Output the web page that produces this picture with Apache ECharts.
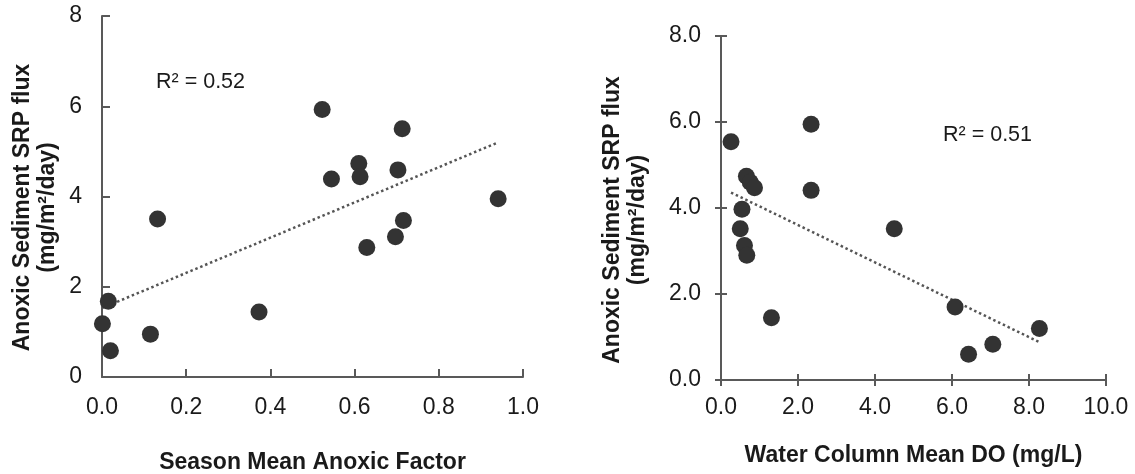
<!DOCTYPE html>
<html>
<head>
<meta charset="utf-8">
<script src="https://cdn.jsdelivr.net/npm/echarts@6/dist/echarts.min.js"></script>
<style>
html,body{margin:0;padding:0;background:#fff;}
#chart{width:1135px;height:474px;}
</style>
</head>
<body>
<div id="chart"></div>
<script>
// ---- Data ----
const anoxicFactor = [0.523,0.713,0.610,0.545,0.613,0.703,0.941,0.132,0.716,0.697,0.629,0.015,0.373,0.001,0.115,0.020];
const fluxLeft     = [5.93,5.50,4.73,4.39,4.44,4.59,3.95,3.50,3.47,3.11,2.87,1.68,1.44,1.18,0.95,0.58];

const meanDO    = [0.26,2.34,0.66,0.76,0.87,2.34,0.545,0.50,0.61,0.67,4.50,1.31,6.08,8.27,7.06,6.43];
const fluxRight = [5.54,5.95,4.74,4.60,4.47,4.41,3.97,3.52,3.13,2.90,3.52,1.45,1.70,1.20,0.83,0.60];

// trend lines (endpoints)
const trendLeftX  = [0.001, 0.941];
const trendLeftY  = [1.53, 5.20];
const trendRightX = [0.26, 8.27];
const trendRightY = [4.36, 0.88];

const r2Left  = 'R² = 0.52';
const r2Right = 'R² = 0.51';

const yTitle = 'Anoxic Sediment SRP flux\n(mg/m²/day)';
const xTitleLeft  = 'Season Mean Anoxic Factor';
const xTitleRight = 'Water Column Mean DO (mg/L)';

// ---- Build ----
const FONT = '"Liberation Sans", Arial, sans-serif';
const AX = '#595959';
const TXT = '#1a1a1a';
const zip = (a, b) => a.map((v, i) => [v, b[i]]);

const lineStyle = { color: AX, width: 2 };
const labelStyle = { fontFamily: FONT, fontSize: 23, color: TXT };
const nameStyle = { fontFamily: FONT, fontSize: 23, fontWeight: 'bold', color: TXT, lineHeight: 25 };

const gridL = { left: 102, top: 16, width: 421, height: 361 };
const gridR = { left: 721, top: 36, width: 385, height: 344 };
const gridBase = { containLabel: false, outerBoundsMode: 'none' };

const chart = echarts.init(document.getElementById('chart'), null, { renderer: 'canvas' });
chart.setOption({
  animation: false,
  backgroundColor: '#ffffff',
  grid: [
    Object.assign({}, gridBase, gridL),
    Object.assign({}, gridBase, gridR),
    Object.assign({}, gridBase, gridR)
  ],
  xAxis: [
    { gridIndex: 0, type: 'value', min: 0, max: 1, interval: 0.2,
      axisLine: { show: true, lineStyle }, axisTick: { show: true, inside: true, length: 8, lineStyle },
      splitLine: { show: false },
      axisLabel: Object.assign({ margin: 19, formatter: v => v.toFixed(1) }, labelStyle),
      name: xTitleLeft, nameLocation: 'middle', nameGap: 73, nameTextStyle: nameStyle },
    { gridIndex: 1, type: 'value', min: 0, max: 10, interval: 2,
      axisLine: { show: true, lineStyle }, axisTick: { show: true, inside: false, length: 6, lineStyle },
      splitLine: { show: false },
      axisLabel: Object.assign({ margin: 16, formatter: v => v.toFixed(1) }, labelStyle),
      name: xTitleRight, nameLocation: 'middle', nameGap: 63, nameTextStyle: nameStyle },
    { gridIndex: 2, type: 'value', min: 0, max: 10, interval: 2,
      axisLine: { show: false }, axisTick: { show: true, inside: true, length: 6, lineStyle },
      splitLine: { show: false }, axisLabel: { show: false } }
  ],
  yAxis: [
    { gridIndex: 0, type: 'value', min: 0, max: 8, interval: 2,
      axisLine: { show: true, lineStyle }, axisTick: { show: true, inside: true, length: 8, lineStyle },
      splitLine: { show: false },
      axisLabel: Object.assign({ margin: 20, formatter: v => String(v) }, labelStyle),
      name: yTitle, nameLocation: 'middle', nameRotate: 90, nameGap: 42,
      nameTextStyle: Object.assign({ padding: [0, 22, 0, 0] }, nameStyle) },
    { gridIndex: 1, type: 'value', min: 0, max: 8, interval: 2,
      axisLine: { show: true, lineStyle }, axisTick: { show: true, inside: false, length: 6, lineStyle },
      splitLine: { show: false },
      axisLabel: Object.assign({ margin: 20, formatter: v => v.toFixed(1) }, labelStyle),
      name: yTitle, nameLocation: 'middle', nameRotate: 90, nameGap: 71,
      nameTextStyle: Object.assign({ padding: [0, 24, 0, 0] }, nameStyle) },
    { gridIndex: 2, type: 'value', min: 0, max: 8, interval: 2,
      axisLine: { show: false }, axisTick: { show: true, inside: true, length: 6, lineStyle },
      splitLine: { show: false }, axisLabel: { show: false } }
  ],
  series: [
    { type: 'line', xAxisIndex: 0, yAxisIndex: 0, data: zip(trendLeftX, trendLeftY),
      symbol: 'none', silent: true, z: 1,
      lineStyle: { color: '#555', width: 2.5, type: [2.5, 2.8], cap: 'butt' } },
    { type: 'scatter', xAxisIndex: 0, yAxisIndex: 0, data: zip(anoxicFactor, fluxLeft),
      symbol: 'circle', symbolSize: 17, z: 3, itemStyle: { color: '#333333', opacity: 1 } },
    { type: 'line', xAxisIndex: 1, yAxisIndex: 1, data: zip(trendRightX, trendRightY),
      symbol: 'none', silent: true, z: 1,
      lineStyle: { color: '#555', width: 2.5, type: [2.5, 2.8], cap: 'butt' } },
    { type: 'scatter', xAxisIndex: 1, yAxisIndex: 1, data: zip(meanDO, fluxRight),
      symbol: 'circle', symbolSize: 17, z: 3, itemStyle: { color: '#333333', opacity: 1 } }
  ],
  graphic: [
    { type: 'text', left: 156, top: 71,
      style: { text: r2Left, font: '21.5px ' + FONT, fill: TXT } },
    { type: 'text', left: 943, top: 124,
      style: { text: r2Right, font: '21.5px ' + FONT, fill: TXT } }
  ]
});
</script>
</body>
</html>
